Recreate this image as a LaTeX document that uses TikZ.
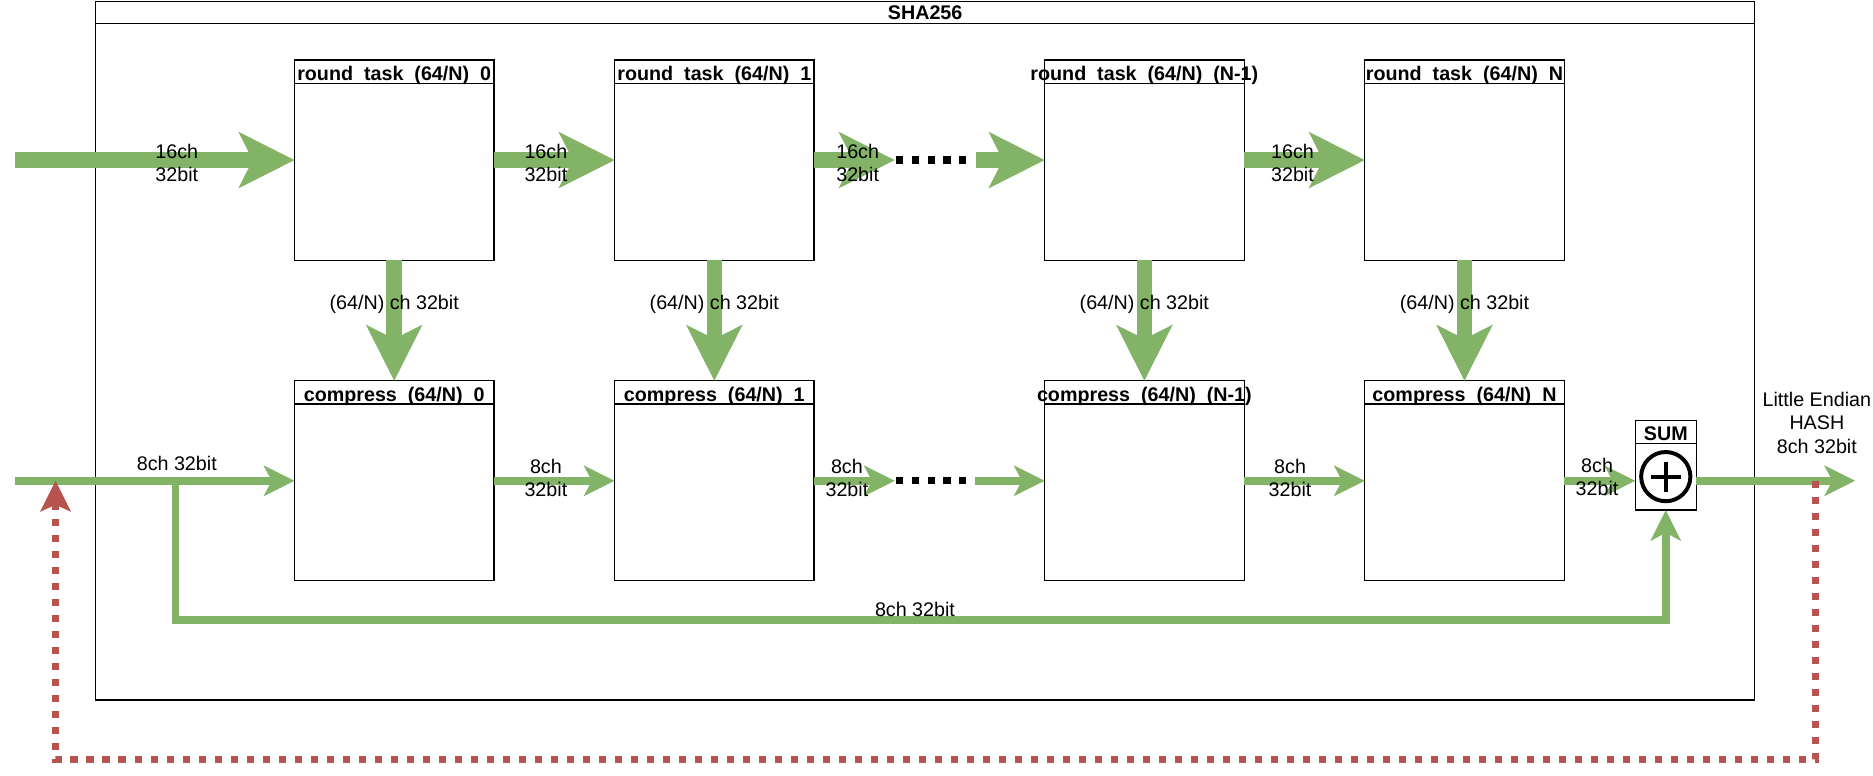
\documentclass[tikz,border=0pt]{standalone}
\usepackage{fontspec}
\setmainfont{Liberation Sans}
\usetikzlibrary{arrows.meta,calc}
\definecolor{grn}{HTML}{82B366}
\definecolor{rd}{HTML}{B85450}
\newcommand{\gp}{\hspace{0.556em}}
\begin{document}
\begin{tikzpicture}[x=1pt,y=-1pt,
  box/.style={draw, line width=1pt, minimum width=167pt, minimum height=167.5pt, inner sep=0pt, outer sep=0pt},
  hdr/.style={font=\fontsize{16.5pt}{19.5pt}\selectfont\bfseries, inner sep=0pt, anchor=base},
  lbl/.style={font=\fontsize{16.5pt}{19.5pt}\selectfont, inner sep=0pt, align=center},
  fat/.style={grn, line width=13pt, -{Stealth[length=47pt,width=47.5pt,inset=12pt,line width=0pt]}},
  thinarrow/.style={grn, line width=6.4pt, line join=miter, -{Stealth[length=26pt,width=26pt,inset=7pt,line width=0pt]}},
  blackdots/.style={black, line width=6pt, dash pattern=on 6pt off 7.25pt},
  feedback/.style={rd, line width=6.1pt, line join=miter, dash pattern=on 6.1pt off 7.3pt, -{Stealth[length=26pt,width=26pt,inset=6pt,line width=0pt]}}
]
\useasboundingbox (0,0) rectangle (1568,648.8);

% outer container
\node[draw, line width=1pt, minimum width=1389pt, minimum height=585pt, inner sep=0pt, outer sep=0pt] (sha) at (774.5,293.5) {};
\draw[line width=1pt] ($(sha.north west)+(0,19)$) -- ($(sha.north east)+(0,19)$);
\node[hdr] (shat) at (774.5,16) {SHA256};

% round task boxes
\node[box] (rt0) at (330,134) {};
\node[box] (rt1) at (598,134) {};
\node[box] (rtm) at (958,134) {};
\node[box] (rtn) at (1226,134) {};
% compress boxes
\node[box] (c0) at (330,402.5) {};
\node[box] (c1) at (598,402.5) {};
\node[box] (cm) at (958,402.5) {};
\node[box] (cn) at (1226,402.5) {};

\foreach \b in {rt0,rt1,rtm,rtn,c0,c1,cm,cn}{
  \draw[line width=1pt] ($(\b.north west)+(0,19.5)$) -- ($(\b.north east)+(0,19.5)$);
}

\node[hdr] (rt0h) at ($(rt0.north)+(0,17.5)$) {round\gp task\gp (64/N)\gp 0};
\node[hdr] (rt1h) at ($(rt1.north)+(0,17.5)$) {round\gp task\gp (64/N)\gp 1};
\node[hdr] (rtmh) at ($(rtm.north)+(0,17.5)$) {round\gp task\gp (64/N)\gp (N-1)};
\node[hdr] (rtnh) at ($(rtn.north)+(0,17.5)$) {round\gp task\gp (64/N)\gp N};
\node[hdr] (c0h) at ($(c0.north)+(0,17.5)$) {compress\gp (64/N)\gp 0};
\node[hdr] (c1h) at ($(c1.north)+(0,17.5)$) {compress\gp (64/N)\gp 1};
\node[hdr] (cmh) at ($(cm.north)+(0,17.5)$) {compress\gp (64/N)\gp (N-1)};
\node[hdr] (cnh) at ($(cn.north)+(0,17.5)$) {compress\gp (64/N)\gp N};

% SUM block
\node[draw, line width=1pt, minimum width=51pt, minimum height=75pt, inner sep=0pt, outer sep=0pt] (sum) at (1394.5,389.5) {};
\draw[line width=1pt] ($(sum.north west)+(0,19)$) -- ($(sum.north east)+(0,19)$);
\node[hdr] (sumh) at ($(sum.north)+(0,17)$) {SUM};
\coordinate (sumc) at (1394.5,399);
\draw[line width=3.3pt] (sumc) circle[radius=20.6pt];
\draw[line width=3.3pt] ($(sumc)+(-12.5,0)$) -- ($(sumc)+(12.5,0)$);
\draw[line width=3.3pt] ($(sumc)+(0,-12.5)$) -- ($(sumc)+(0,12.5)$);

% helper coordinates
\coordinate (in1) at (12.5,134);
\coordinate (d1) at (749,134);
\coordinate (d2) at (750,134);
\coordinate (d3) at (809,134);
\coordinate (d4) at (817,134);
\coordinate (in2) at (12.5,402.5);
\coordinate (e1) at (749,402.5);
\coordinate (e2) at (750,402.5);
\coordinate (e3) at (809,402.5);
\coordinate (e4) at (816,402.5);
\coordinate (br) at (147,402.5);
\coordinate (bl1) at (147,519);
\coordinate (out) at (1553,402.5);
\coordinate (r0) at (1520,402.5);
\coordinate (r1) at (1520,636);
\coordinate (r2) at (46.5,636);
\coordinate (r3) at (46.5,402.5);

% top row arrows
\draw[fat] (in1) -- (rt0.west);
\draw[fat] (rt0.east) -- (rt1.west);
\draw[fat] (rt1.east) -- (d1);
\draw[blackdots] (d2) -- (d3);
\draw[fat] (d4) -- (rtm.west);
\draw[fat] (rtm.east) -- (rtn.west);
% vertical arrows
\draw[fat] (rt0.south) -- (c0.north);
\draw[fat] (rt1.south) -- (c1.north);
\draw[fat] (rtm.south) -- (cm.north);
\draw[fat] (rtn.south) -- (cn.north);
% bottom row arrows
\draw[thinarrow] (in2) -- (c0.west);
\draw[thinarrow] (c0.east) -- (c1.west);
\draw[thinarrow] (c1.east) -- (e1);
\draw[blackdots] (e2) -- (e3);
\draw[thinarrow] (e4) -- (cm.west);
\draw[thinarrow] (cm.east) -- (cn.west);
\draw[thinarrow] (cn.east) -- (cn.east -| sum.west);
\draw[thinarrow] (cn.east -| sum.east) -- (out);
\draw[thinarrow] (br) -- (bl1) -- (bl1 -| sum.south) -- (sum.south);
% feedback
\draw[feedback] (r0) -- (r1) -- (r2) -- (r3);

% labels
\node[lbl] (l1) at (148,136.5) {16ch\\32bit};
\node[lbl] (l2) at (457,136.5) {16ch\\32bit};
\node[lbl] (l3) at (718,136.5) {16ch\\32bit};
\node[lbl] (l4) at (1082,136.5) {16ch\\32bit};
\node[lbl] (v1) at (330,255) {(64/N) ch 32bit};
\node[lbl] (v2) at (598,255) {(64/N) ch 32bit};
\node[lbl] (v3) at (958,255) {(64/N) ch 32bit};
\node[lbl] (v4) at (1226,255) {(64/N) ch 32bit};
\node[lbl] (b0) at (148,388) {8ch 32bit};
\node[lbl] (b1) at (457,400) {8ch\\32bit};
\node[lbl] (b2) at (709,400) {8ch\\32bit};
\node[lbl] (b3) at (1080,400) {8ch\\32bit};
\node[lbl] (b4) at (1337,399) {8ch\\32bit};
\node[lbl] (bl) at (766,510.5) {8ch 32bit};
\node[lbl] (hash) at (1521,354) {Little Endian\\HASH\\8ch 32bit};
\end{tikzpicture}
\end{document}
